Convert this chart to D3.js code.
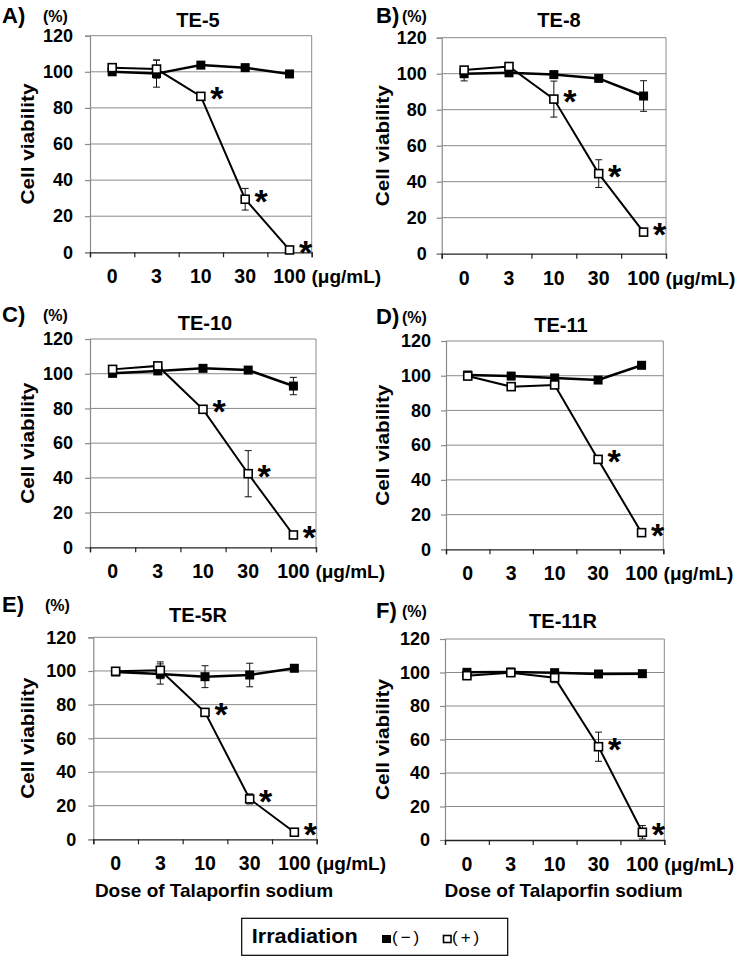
<!DOCTYPE html>
<html>
<head>
<meta charset="utf-8">
<script src="https://cdn.jsdelivr.net/npm/d3@7"></script>
<style>
  html, body { margin: 0; padding: 0; background: #fff; }
  svg { display: block; }
  text { font-family: "Liberation Sans", Arial, sans-serif; font-weight: bold; fill: #000; }
</style>
</head>
<body>
<svg id="chart" width="740" height="958"></svg>
<script>
// ---------- DATA ----------
const doses = ["0", "3", "10", "30", "100"];
const yTicks = [0, 20, 40, 60, 80, 100, 120];
const panelLetters = ["A)", "B)", "C)", "D)", "E)", "F)"];
const panelNames = ["TE-5", "TE-8", "TE-10", "TE-11", "TE-5R", "TE-11R"];

// Irradiation (−), filled squares
const te5Dark   = [100, 99, 103.7, 102.3, 98.8];
const te5DarkErr = [1, 7.5, 1, 1, 1];
const te8Dark   = [100, 100.5, 99.5, 97.4, 87.6];
const te8DarkErr = [4, 1, 1, 1, 8.5];
const te10Dark  = [100.2, 101.6, 103.1, 102.1, 92.9];
const te10DarkErr = [1, 1, 1, 1, 5];
const te11Dark  = [100.4, 99.8, 98.7, 97.5, 106];
const te11DarkErr = [1, 1, 1, 1, 1];
const te5RDark  = [99.4, 98.2, 96.6, 97.6, 101.6];
const te5RDarkErr = [1, 6, 6.5, 7, 1];
const te11RDark = [100.1, 100.3, 99.9, 99.1, 99.3];
const te11RDarkErr = [1, 1, 1, 1, 1];

// Irradiation (+), open squares
const te5Light   = [102.3, 101.5, 86.4, 29.4, 1.3];
const te5LightErr = [1, 5, 1, 6, 0.5];
const te8Light   = [102, 104, 85.9, 44.5, 12];
const te8LightErr = [1, 1, 10, 7.7, 1];
const te10Light  = [102.5, 104.5, 79.5, 42.4, 7.1];
const te10LightErr = [1, 1, 1, 13.3, 1];
const te11Light  = [99.8, 93.7, 94.7, 51.8, 9.6];
const te11LightErr = [2, 1, 1, 1, 1];
const te5RLight  = [99.8, 100.4, 75.4, 24, 4.2];
const te5RLightErr = [1, 5, 1, 3, 1];
const te11RLight = [98.1, 99.9, 96.9, 55.7, 4.6];
const te11RLightErr = [1, 1, 3, 8.7, 4];

// significance asterisks (dose labels marked with *)
const te5Stars = ["10", "30", "100"];
const te8Stars = ["10", "30", "100"];
const te10Stars = ["10", "30", "100"];
const te11Stars = ["30", "100"];
const te5RStars = ["10", "30", "100"];
const te11RStars = ["30", "100"];

const unitLabel = "(μg/mL)";
const yUnit = "(%)";
const yTitle = "Cell viability";
const xTitle = "Dose of Talaporfin sodium";
const legendTitle = "Irradiation";
const legendLabels = ["(−)", "(+)"];

const series = [
  { dark: te5Dark, darkErr: te5DarkErr, light: te5Light, lightErr: te5LightErr, stars: te5Stars },
  { dark: te8Dark, darkErr: te8DarkErr, light: te8Light, lightErr: te8LightErr, stars: te8Stars },
  { dark: te10Dark, darkErr: te10DarkErr, light: te10Light, lightErr: te10LightErr, stars: te10Stars },
  { dark: te11Dark, darkErr: te11DarkErr, light: te11Light, lightErr: te11LightErr, stars: te11Stars },
  { dark: te5RDark, darkErr: te5RDarkErr, light: te5RLight, lightErr: te5RLightErr, stars: te5RStars },
  { dark: te11RDark, darkErr: te11RDarkErr, light: te11RLight, lightErr: te11RLightErr, stars: te11RStars }
];

// ---------- LAYOUT ----------
const layout = [
  { x0: 90,    x1: 311.7, yT: 35.7, yB: 252.3, titleX: 198, titleY: 27,  headY: 23,  letterX: 2,   pctX: 43,  xTitle: false },
  { x0: 441.7, x1: 666,   yT: 37.7, yB: 253.7, titleX: 559, titleY: 27,  headY: 23,  letterX: 376, pctX: 402, xTitle: false },
  { x0: 90,    x1: 316,   yT: 339,  yB: 547.3, titleX: 205, titleY: 330, headY: 322, letterX: 2,   pctX: 43,  xTitle: false },
  { x0: 446,   x1: 663.3, yT: 341,  yB: 549.3, titleX: 561, titleY: 332, headY: 324, letterX: 376, pctX: 402, xTitle: false },
  { x0: 93.3,  x1: 316.7, yT: 637.3, yB: 839.3, titleX: 198, titleY: 622, headY: 612, letterX: 2,  pctX: 45,  xTitle: true },
  { x0: 445,   x1: 664.3, yT: 639,  yB: 840,   titleX: 563, titleY: 628, headY: 618, letterX: 376, pctX: 402, xTitle: true }
];

const svg = d3.select("#chart");
const gridColor = "#8a8a8a";

layout.forEach((L, i) => {
  const S = series[i];
  const g = svg.append("g");
  const y = d3.scaleLinear().domain([0, 120]).range([L.yB, L.yT]);
  const xb = d3.scaleBand().domain(doses).range([L.x0, L.x1]);
  const cx = d => xb(d) + xb.bandwidth() / 2;
  const xl = d3.scaleLinear().domain([0, doses.length]).range([L.x0, L.x1]);

  // gridlines
  g.append("g").selectAll("line").data(yTicks.filter(t => t > 0)).join("line")
    .attr("x1", L.x0).attr("x2", L.x1)
    .attr("y1", d => y(d)).attr("y2", d => y(d))
    .attr("stroke", gridColor).attr("stroke-width", 1);
  // right border
  g.append("line").attr("x1", L.x1).attr("x2", L.x1).attr("y1", L.yT).attr("y2", L.yB)
    .attr("stroke", gridColor).attr("stroke-width", 1);

  // y axis
  const ya = g.append("g").attr("transform", `translate(${L.x0},0)`)
    .call(d3.axisLeft(y).tickValues(yTicks).tickSize(5).tickPadding(i % 2 === 0 ? 12 : 10).tickFormat(d3.format("d")));
  ya.select(".domain").attr("stroke", gridColor).attr("stroke-width", 1.2);
  ya.selectAll(".tick line").attr("stroke", gridColor).attr("stroke-width", 1.2);
  ya.selectAll(".tick text").style("font-size", "18px").style("font-family", '"Liberation Sans", Arial, sans-serif').style("font-weight", "bold").attr("fill", "#000");

  // x axis (ticks at band boundaries)
  const xa = g.append("g").attr("transform", `translate(0,${L.yB})`)
    .call(d3.axisBottom(xl).tickValues(d3.range(doses.length + 1)).tickSize(5).tickFormat(""));
  xa.select(".domain").attr("stroke", "#222").attr("stroke-width", 1.3);
  xa.selectAll(".tick line").attr("stroke", "#222").attr("stroke-width", 1.2);

  // x tick labels
  g.append("g").selectAll("text").data(doses).join("text")
    .attr("x", d => cx(d))
    .attr("y", L.yB + 31)
    .attr("text-anchor", "middle")
    .style("font-size", "19.5px")
    .text(d => d);
  // unit
  const lastX = cx(doses[doses.length - 1]);
  g.append("text").attr("x", lastX + 22).attr("y", L.yB + 31)
    .style("font-size", "19px").text(unitLabel);

  // headers
  g.append("text").attr("x", L.letterX).attr("y", L.headY).style("font-size", "22px").text(panelLetters[i]);
  g.append("text").attr("x", L.pctX).attr("y", L.headY - 1).style("font-size", "16px").text(yUnit);
  g.append("text").attr("x", L.titleX).attr("y", L.titleY).attr("text-anchor", "middle")
    .style("font-size", "20px").text(panelNames[i]);

  // y title
  const ytx = (i % 2 === 0) ? 34 : 389;
  const yty = (L.yT + L.yB) / 2;
  g.append("text").attr("transform", `translate(${ytx},${yty}) rotate(-90)`)
    .attr("text-anchor", "middle").style("font-size", "19px")
    .attr("textLength", 121).attr("lengthAdjust", "spacingAndGlyphs")
    .text(yTitle);

  if (L.xTitle) {
    g.append("text").attr("x", (L.x0 + L.x1) / 2 + 9).attr("y", 897)
      .attr("text-anchor", "middle").style("font-size", "19px").text(xTitle);
  }

  // error bars
  const drawErr = (vals, errs) => {
    const eg = g.append("g").attr("stroke", "#111").attr("stroke-width", 1);
    doses.forEach((d, k) => {
      const x = cx(d), top = y(vals[k] + errs[k]), bot = y(vals[k] - errs[k]);
      eg.append("line").attr("x1", x).attr("x2", x).attr("y1", top).attr("y2", bot);
      eg.append("line").attr("x1", x - 3.5).attr("x2", x + 3.5).attr("y1", top).attr("y2", top);
      eg.append("line").attr("x1", x - 3.5).attr("x2", x + 3.5).attr("y1", bot).attr("y2", bot);
    });
  };
  drawErr(S.dark, S.darkErr);
  drawErr(S.light, S.lightErr);

  const line = d3.line().x((v, k) => cx(doses[k])).y(v => y(v));
  g.append("path").datum(S.dark).attr("d", line).attr("fill", "none").attr("stroke", "#000").attr("stroke-width", 2.5);
  g.append("path").datum(S.light).attr("d", line).attr("fill", "none").attr("stroke", "#000").attr("stroke-width", 2);

  // filled markers
  g.append("g").selectAll("rect").data(S.dark).join("rect")
    .attr("x", (v, k) => cx(doses[k]) - 4.5).attr("y", v => y(v) - 4.5)
    .attr("width", 9).attr("height", 9).attr("fill", "#000");
  // open markers
  g.append("g").selectAll("rect").data(S.light).join("rect")
    .attr("x", (v, k) => cx(doses[k]) - 4).attr("y", v => y(v) - 4)
    .attr("width", 8).attr("height", 8).attr("fill", "#fff").attr("stroke", "#000").attr("stroke-width", 1.6);

  // asterisks
  g.append("g").selectAll("text").data(S.stars).join("text")
    .attr("x", d => cx(d) + 16).attr("y", d => y(S.light[doses.indexOf(d)]) + 14)
    .attr("text-anchor", "middle").style("font-size", "34px").text("*");
});

// ---------- LEGEND ----------
const lg = svg.append("g");
lg.append("rect").attr("x", 241.7).attr("y", 918.3).attr("width", 266).attr("height", 37)
  .attr("fill", "#fff").attr("stroke", "#000").attr("stroke-width", 1.2);
lg.append("text").attr("x", 251.7).attr("y", 943).style("font-size", "21px")
  .attr("textLength", 106).attr("lengthAdjust", "spacingAndGlyphs").text(legendTitle);
lg.append("rect").attr("x", 382).attr("y", 935).attr("width", 9).attr("height", 8).attr("fill", "#000");
lg.append("text").attr("x", 392).attr("y", 943).style("font-size", "17px").style("font-weight", "normal")
  .style("letter-spacing", "3px").text(legendLabels[0]);
lg.append("rect").attr("x", 443.5).attr("y", 935.5).attr("width", 7.5).attr("height", 7).attr("fill", "#fff")
  .attr("stroke", "#000").attr("stroke-width", 1.6);
lg.append("text").attr("x", 452).attr("y", 943).style("font-size", "17px").style("font-weight", "normal")
  .style("letter-spacing", "3px").text(legendLabels[1]);
</script>
</body>
</html>
